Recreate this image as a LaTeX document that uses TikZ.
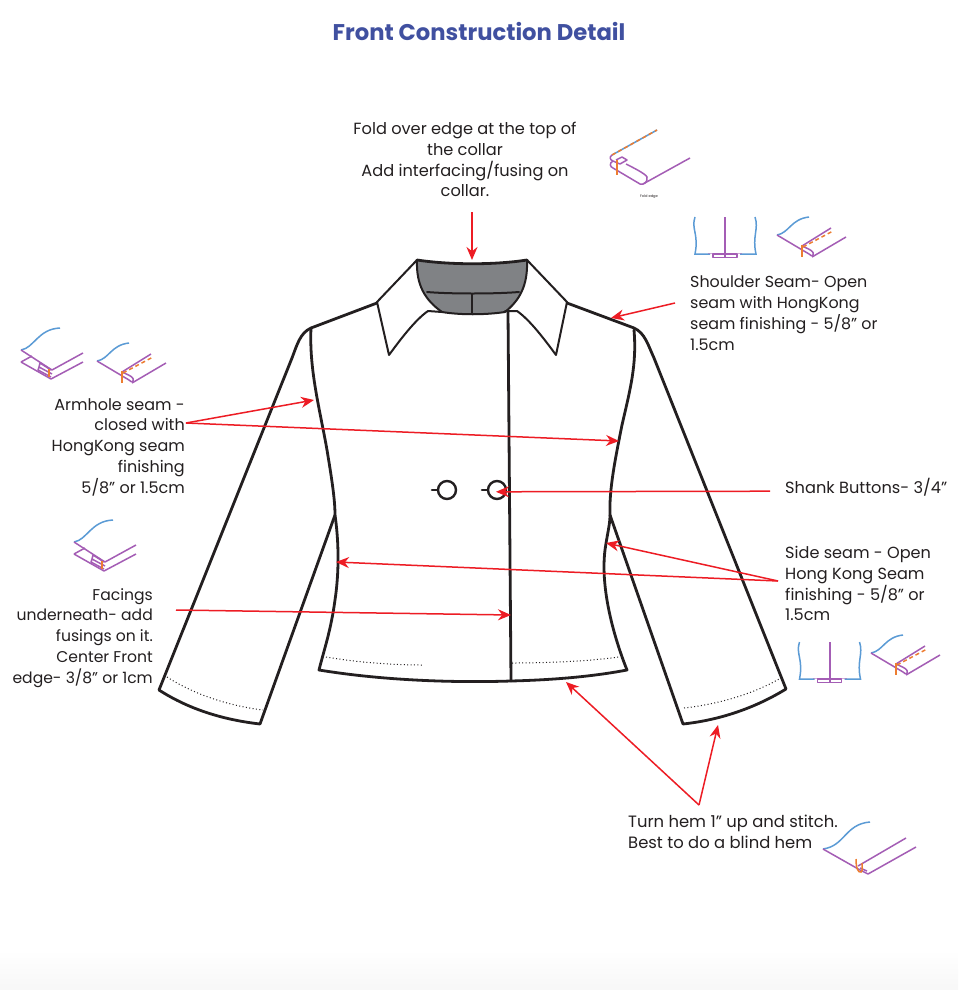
\documentclass[tikz,border=0pt]{standalone}
\usepackage{fontspec}
\setmainfont{Poppins}
\usetikzlibrary{arrows.meta}
\definecolor{ink}{HTML}{231F20}
\definecolor{redarrow}{HTML}{ED1C24}
\definecolor{titleblue}{HTML}{4050A0}
\definecolor{seamblue}{HTML}{5B9BD5}
\definecolor{seampurple}{HTML}{A45DB5}
\definecolor{seamorange}{HTML}{ED7D31}
\definecolor{collargray}{HTML}{808285}
\tikzset{
 garment/.style={draw=ink,line width=2.8pt,line join=round,line cap=round},
 thin garment/.style={draw=ink,line width=2pt,line join=round,line cap=round},
 hemdots/.style={draw=ink,line width=1pt,dash pattern=on 1pt off 2.4pt},
 callout/.style={draw=redarrow,line width=1.5pt,-{Stealth[length=13pt,width=11pt]}},
 label/.style={inner sep=0pt,text=ink,font=\fontsize{16}{20.8}\selectfont},
 bluel/.style={draw=seamblue,line width=1.5pt},
 purplel/.style={draw=seampurple,line width=1.5pt,line join=round},
 orangel/.style={draw=seamorange,line width=1.5pt},
 orangedash/.style={draw=seamorange,line width=1.5pt,dash pattern=on 4pt off 3pt},
}
% open seam icon
\newcommand{\openseamicon}[2]{\begin{scope}[shift={(#1,#2)}]
 \draw[bluel] (-30,-37) .. controls (-34,-25) and (-26,-20) .. (-30,0) -- (-15,0);
 \draw[bluel] (30,-37) .. controls (34,-25) and (27,-18) .. (31,0) -- (15,0);
 \draw[purplel,line width=1.1pt] (-12,0) rectangle (12,3.5);
 \draw[purplel,line width=2pt] (0,-37) -- (0,3);
 \draw[purplel,line width=.6pt,opacity=.5] (-17,-1) -- (17,-1);
\end{scope}}
% folded seam icon with stitch line
\newcommand{\foldseamicon}[2]{\begin{scope}[shift={(#1,#2)}]
 \draw[bluel] (0,0) .. controls (12,-2) and (14,-16) .. (32,-18);
 \draw[purplel] (0,0) -- (32,19) .. controls (35,22) and (37,21) .. (36,17.5) .. controls (35,15) and (29,13) .. (25,11) -- (54,-7);
 \draw[purplel] (35,22) -- (69,2);
 \draw[orangedash] (26,12) -- (56,-4);
 \draw[orangel] (25,10) -- (25,22);
\end{scope}}
% closed double seam icon
\newcommand{\closedseamicon}[2]{\begin{scope}[shift={(#1,#2)}]
 \draw[bluel] (0,0) .. controls (13,-2) and (17,-21) .. (39,-22);
 \draw[purplel] (0,0) -- (31,20) -- (62,3);
 \draw[purplel] (0,12) -- (11,6);
 \draw[purplel] (0,12) -- (30,29) -- (62,12);
 \draw[purplel] (19,13) -- (30,20) (19,13) -- (18,17) -- (31,24) (18,17) -- (17,20) -- (30,27);
 \draw[orangel] (28,19) -- (28,27);
\end{scope}}
\begin{document}
\begin{tikzpicture}[x=1pt,y=-1pt]
\useasboundingbox (0,0) rectangle (958,990);
\fill[white] (0,0) rectangle (958,950);
\shade[top color=white,bottom color=black!3] (0,950) rectangle (958,990);

% title
\node[inner sep=0pt,text=titleblue,font=\fontsize{22.7}{26}\selectfont\bfseries] (title) at (479,31) {Front Construction Detail};

% collar stand
\path[fill=collargray] (417,260) .. controls (450,265) and (495,265) .. (527,260)
 .. controls (528,285) and (520,300) .. (505,312) .. controls (485,315) and (460,315) .. (442,312)
 .. controls (425,300) and (416,285) .. (417,260) -- cycle;
\draw[garment] (417,260) .. controls (450,265) and (495,265) .. (527,260);
\draw[thin garment] (417,260) .. controls (416,285) and (425,300) .. (442,312) .. controls (460,315) and (485,315) .. (505,312) .. controls (520,300) and (528,285) .. (527,260);
\draw[thin garment] (427,292) .. controls (450,294) and (495,294) .. (519,292);
\draw[thin garment] (472,294) -- (472,313);
% collar wings
\draw[thin garment] (417,260) -- (377,302) -- (389,355) .. controls (400,340) and (415,320) .. (428,311) -- (442,312);
\draw[thin garment] (527,260) -- (567,302) -- (556,355) .. controls (545,340) and (530,320) .. (517,311) -- (505,311);

% body
\draw[garment] (377,303) -- (311,328) .. controls (300,333) and (297,345) .. (292,358) -- (159,690)
 .. controls (190,710) and (225,720) .. (260,724) -- (335,515);
\draw[garment] (311,328) .. controls (309,370) and (320,410) .. (327,450) .. controls (332,480) and (335,500) .. (335,515)
 .. controls (340,550) and (338,580) .. (335,600) .. controls (331,630) and (324,650) .. (319,670)
 .. controls (380,680) and (450,683) .. (511,681) .. controls (550,680) and (590,677) .. (627,670)
 .. controls (615,640) and (600,590) .. (605,550) .. controls (607,535) and (610,525) .. (610,515)
 .. controls (609,490) and (615,460) .. (622,425) .. controls (630,390) and (637,365) .. (634,330);
\draw[garment] (567,303) -- (634,328) .. controls (645,333) and (648,345) .. (654,358) -- (786,689)
 .. controls (755,708) and (720,720) .. (683,724) -- (610,515);
\draw[garment] (508,312) -- (511,681);

% hem stitching
\draw[hemdots] (326,657) .. controls (355,662) and (390,665) .. (422,665);
\draw[hemdots] (512,663) .. controls (550,663) and (590,661) .. (619,657);
\draw[hemdots] (167,677) .. controls (195,695) and (230,706) .. (263,710);
\draw[hemdots] (684,708) .. controls (720,704) and (755,693) .. (779,679);

% buttons
\node[circle,draw=ink,line width=2.4pt,minimum size=18pt,inner sep=0pt,fill=white] (btnA) at (447,490) {};
\node[circle,draw=ink,line width=2.4pt,minimum size=18pt,inner sep=0pt,fill=white] (btnB) at (497,490) {};
\coordinate (shankA) at (432,490);
\coordinate (shankB) at (482,490);
\draw[ink,line width=2.6pt,line cap=round] (shankA) -- (btnA);
\draw[ink,line width=2.6pt,line cap=round] (shankB) -- (btnB);

% labels
\node[label,font=\fontsize{16.2}{20.8}\selectfont,align=center,anchor=north] (lcollar) at (465,122) {Fold over edge at the top of\\the collar\\Add interfacing/fusing on\\collar.};
\node[label,font=\fontsize{15.9}{20.8}\selectfont,align=left,anchor=north west] (lshoulder) at (690,276) {Shoulder Seam- Open\\seam with HongKong\\seam finishing - 5/8” or\\1.5cm};
\node[label,align=right,anchor=north east] (larmhole) at (185,398) {Armhole seam -\\closed with\\HongKong seam\\finishing\\5/8” or 1.5cm};
\node[label,font=\fontsize{16.2}{20.8}\selectfont,align=left,anchor=west] (lshank) at (785,487) {Shank Buttons- 3/4”};
\node[label,font=\fontsize{16.1}{20.8}\selectfont,align=left,anchor=north west] (lside) at (785,546) {Side seam - Open\\Hong Kong Seam\\finishing - 5/8” or\\1.5cm};
\node[label,font=\fontsize{15.6}{20.8}\selectfont,align=right,anchor=north east] (lfacing) at (153,588) {Facings\\underneath- add\\fusings on it.\\Center Front\\edge- 3/8” or 1cm};
\node[label,font=\fontsize{16.4}{20.8}\selectfont,align=left,anchor=north west] (lhem) at (628,815) {Turn hem 1” up and stitch.\\Best to do a blind hem};

% callouts
\coordinate (fromCollar) at (472,212); \coordinate (toCollar) at (472,260);
\coordinate (fromShoulder) at (675,303); \coordinate (toShoulder) at (611,318);
\coordinate (fromArm) at (186,423); \coordinate (toArmL) at (314,400); \coordinate (toArmR) at (619,441);
\coordinate (fromShank) at (770,491.2); \coordinate (toShank) at (496,491.8);
\coordinate (fromSide) at (778,581); \coordinate (toSideR) at (606,543); \coordinate (toSideL) at (336,562);
\coordinate (fromFacing) at (176,610); \coordinate (toFacing) at (511,615);
\coordinate (fromHem) at (699,805); \coordinate (toHemBody) at (566,682); \coordinate (toHemSleeve) at (718,725);
\draw[callout] (fromCollar) -- (toCollar);
\draw[callout] (fromShoulder) -- (toShoulder);
\draw[callout] (fromArm) -- (toArmL);
\draw[callout] (fromArm) -- (toArmR);
\draw[callout] (fromShank) -- (toShank);
\draw[callout] (fromSide) -- (toSideR);
\draw[callout] (fromSide) -- (toSideL);
\draw[callout] (fromFacing) -- (toFacing);
\draw[callout] (fromHem) -- (toHemBody);
\draw[callout] (fromHem) -- (toHemSleeve);

% seam icons
\openseamicon{725}{254}
\openseamicon{829.5}{679}
\foldseamicon{777}{235}
\foldseamicon{97}{361}
\foldseamicon{871}{653}
\closedseamicon{21}{350}
\closedseamicon{74}{542}

% fold edge icon
\draw[seamblue,line width=1.5pt] (612,155) -- (657,130);
\draw[orangedash] (612,155) -- (657,130);
\draw[purplel] (612,155) .. controls (609,157) and (610,160) .. (613,161) -- (620,164) -- (627,160) -- (622,157) -- (616,160);
\draw[purplel] (613,161) .. controls (609,163) and (610,167) .. (613,168) -- (640,184) .. controls (644,185) and (648,182) .. (647,177) .. controls (646,174) and (632,167) .. (626,164);
\draw[purplel] (643,184) -- (690,158);
\draw[orangel] (617,160) -- (617,175);
\node[inner sep=0pt,text=ink,font=\fontsize{3.6}{4}\selectfont] (lfold) at (649,197) {Fold edge};

% hem icon
\draw[bluel] (823,849) .. controls (845,846) and (845,824) .. (870,822);
\draw[purplel] (823,849) -- (860,870) -- (868,874) -- (916,847);
\draw[purplel] (858,866) -- (906,838);
\draw[purplel] (860,868) -- (867,871);
\draw[seamorange,line width=1.5pt] (856,859) .. controls (856,868) and (858,873) .. (861,872) .. controls (863,871) and (862,866) .. (862,863);
\end{tikzpicture}
\end{document}
